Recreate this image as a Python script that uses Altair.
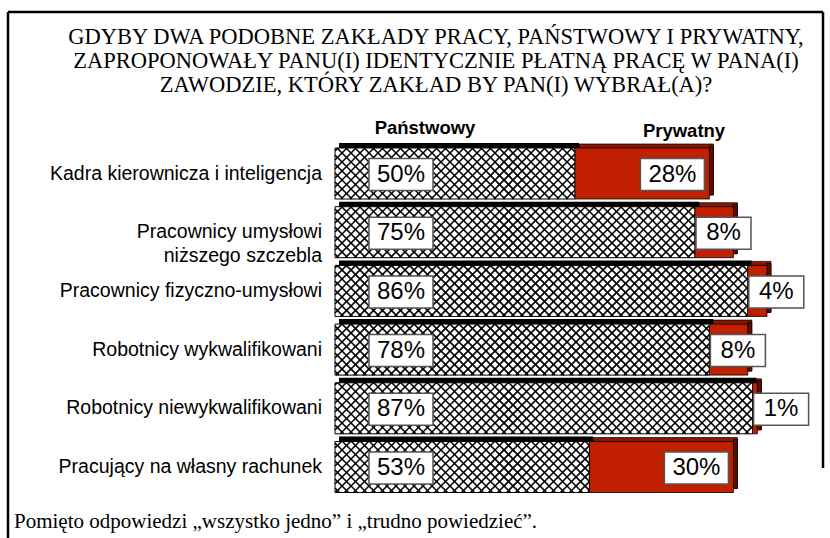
import math
import altair as alt
import pandas as pd

# ---------------- data ----------------
categories = [
    "Kadra kierownicza i inteligencja",
    "Pracownicy umysłowi|niższego szczebla",
    "Pracownicy fizyczno-umysłowi",
    "Robotnicy wykwalifikowani",
    "Robotnicy niewykwalifikowani",
    "Pracujący na własny rachunek",
]
state_pct = [50, 75, 86, 78, 87, 53]
private_pct = [28, 8, 4, 8, 1, 30]
series = ["Państwowy", "Prywatny"]
title_lines = [
    "GDYBY DWA PODOBNE ZAKŁADY PRACY, PAŃSTWOWY I  PRYWATNY,",
    "ZAPROPONOWAŁY PANU(I) IDENTYCZNIE PŁATNĄ PRACĘ W PANA(I)",
    "ZAWODZIE, KTÓRY ZAKŁAD BY PAN(I) WYBRAŁ(A)?",
]
footnote = "Pomięto odpowiedzi „wszystko jedno” i „trudno powiedzieć”."

# ---------------- layout ----------------
W, H = 830, 538
X_ORIGIN, X_UNIT = 335.0, 4.8      # pixel of 0 %, pixels per 1 %
Y_ORIGIN, Y_UNIT = 173.5, 58.7     # pixel of first row centre, pixels per row
HALF_PX = 25.5                      # half bar height
DEPTH = 4                           # 3-D depth in px

def pct(px):
    return (px - X_ORIGIN) / X_UNIT

def row(py):
    return (py - Y_ORIGIN) / Y_UNIT

xs = alt.Scale(domain=[pct(0), pct(W)], range=[0, W], nice=False, zero=False)
ys = alt.Scale(domain=[row(0), row(H)], range=[0, H], nice=False, zero=False)

HH = HALF_PX / Y_UNIT
BOX_HALF = 16 / Y_UNIT
BOX_SHIFT = 1 / Y_UNIT

def box_w_px(label):
    return 55 + 9 * (len(label) - 2)

bars = []
for i, (c, s, p) in enumerate(zip(categories, state_pct, private_pct)):
    t = s + p
    ls, lp = f"{s}%", f"{p}%"
    ws = box_w_px(ls) / X_UNIT
    wp = box_w_px(lp) / X_UNIT
    s_box0 = 34 / X_UNIT
    p_box0 = max(s + 1 / X_UNIT, t - 5 / X_UNIT - wp)
    bars.append(dict(
        row=i, cat=c, start=0.0, s=s, t=t,
        top=i - HH, bot=i + HH,
        btop=i + BOX_SHIFT - BOX_HALF, bbot=i + BOX_SHIFT + BOX_HALF,
        ls=ls, lp=lp,
        sb0=s_box0, sb1=s_box0 + ws, sbc=s_box0 + ws / 2,
        pb0=p_box0, pb1=p_box0 + wp, pbc=p_box0 + wp / 2,
        lx=pct(322),
    ))
bars = pd.DataFrame(bars)

# cross-hatch segments clipped to the state bars
STEP = 9.0
hatch = []
for i, s in enumerate(state_pct):
    x0 = X_ORIGIN
    x1 = X_ORIGIN + s * X_UNIT
    yc = Y_ORIGIN + i * Y_UNIT
    yt, yb = yc - HALF_PX, yc + HALF_PX
    k = math.ceil((x0 - yb) / STEP)
    while k * STEP <= x1 - yt:
        c = k * STEP
        a, b = max(yt, x0 - c), min(yb, x1 - c)
        if b - a > 0.3:
            hatch.append(dict(x=pct(a + c), y=row(a), x2=pct(b + c), y2=row(b)))
        k += 1
    k = math.ceil((x0 + yt) / STEP)
    while k * STEP <= x1 + yb:
        c = k * STEP
        a, b = max(yt, c - x1), min(yb, c - x0)
        if b - a > 0.3:
            hatch.append(dict(x=pct(c - a), y=row(a), x2=pct(c - b), y2=row(b)))
        k += 1
hatch = pd.DataFrame(hatch)

def X(f):
    return alt.X(f, type="quantitative", scale=xs, axis=None)

def Y(f):
    return alt.Y(f, type="quantitative", scale=ys, axis=None)

base = alt.Chart(bars)

state_back = base.mark_rect(fill="black", xOffset=DEPTH, x2Offset=DEPTH,
                            yOffset=-DEPTH - 1, y2Offset=-DEPTH).encode(
    x=X("start"), x2="s", y=Y("top"), y2="bot")
priv_back = base.mark_rect(fill="#8a1800", stroke="black", strokeWidth=0.7,
                           xOffset=DEPTH, x2Offset=DEPTH,
                           yOffset=-DEPTH, y2Offset=-DEPTH).encode(
    x=X("s"), x2="t", y=Y("top"), y2="bot")
priv_side = base.mark_rect(fill="#5e0c00", stroke="black", strokeWidth=0.7,
                           x2Offset=DEPTH, yOffset=-DEPTH / 2, y2Offset=-DEPTH).encode(
    x=X("t"), x2="t", y=Y("top"), y2="bot")
state_front = base.mark_rect(fill="white", stroke="black", strokeWidth=1).encode(
    x=X("start"), x2="s", y=Y("top"), y2="bot")
hatch_layer = alt.Chart(hatch).mark_rule(color="black", strokeWidth=1.6).encode(
    x=X("x"), y=Y("y"), x2="x2", y2="y2")
priv_front = base.mark_rect(fill="#c02000", stroke="black", strokeWidth=0.8).encode(
    x=X("s"), x2="t", y=Y("top"), y2="bot")

box_s = base.mark_rect(fill="white", stroke="#555555", strokeWidth=1.5).encode(
    x=X("sb0"), x2="sb1", y=Y("btop"), y2="bbot")
box_p = base.mark_rect(fill="white", stroke="#555555", strokeWidth=1.5).encode(
    x=X("pb0"), x2="pb1", y=Y("btop"), y2="bbot")
txt_style = dict(font="Liberation Sans", fontSize=24, color="black",
                 align="center", baseline="middle", dy=1)
txt_s = base.mark_text(**txt_style).encode(x=X("sbc"), y=Y("row"), text="ls:N")
txt_p = base.mark_text(**txt_style).encode(x=X("pbc"), y=Y("row"), text="lp:N")

cat_txt = base.mark_text(font="Liberation Sans", fontSize=19.5, align="right",
                         baseline="middle", lineBreak="|", lineHeight=24,
                         color="black").encode(x=X("lx"), y=Y("row"), text="cat:N")

heads = pd.DataFrame({"name": series, "x": [pct(425), pct(684)], "y": [row(128), row(131)]})
head_txt = alt.Chart(heads).mark_text(font="Liberation Sans", fontSize=18.5,
                                      fontWeight="bold", align="center",
                                      baseline="middle", color="black").encode(
    x=X("x"), y=Y("y"), text="name:N")

title_df = pd.DataFrame({"t": title_lines, "x": [pct(436)] * 3,
                         "y": [row(37), row(61), row(85)]})
title_txt = alt.Chart(title_df).mark_text(font="Liberation Serif", fontSize=22.5,
                                          align="center", baseline="middle",
                                          color="black").encode(
    x=X("x"), y=Y("y"), text="t:N")

foot_df = pd.DataFrame({"t": [footnote]})
foot_txt = alt.Chart(foot_df).mark_text(font="Liberation Serif", fontSize=21,
                                        align="left", baseline="middle",
                                        color="black").encode(
    x=alt.value(14), y=alt.value(522), text="t:N")

frame_df = pd.DataFrame({"k": [0]})
frame_left = alt.Chart(frame_df).mark_rule(color="black", strokeWidth=2.5).encode(
    x=alt.value(8), y=alt.value(12), y2=alt.value(H))
frame_top = alt.Chart(frame_df).mark_rule(color="black", strokeWidth=2.5).encode(
    x=alt.value(8), x2=alt.value(823), y=alt.value(12))
frame_right = alt.Chart(frame_df).mark_rule(color="black", strokeWidth=2.5).encode(
    x=alt.value(823), y=alt.value(12), y2=alt.value(468))

chart = alt.layer(
    frame_left, frame_top, frame_right,
    title_txt, head_txt, cat_txt,
    state_back, priv_back, priv_side, state_front, hatch_layer, priv_front,
    box_s, box_p, txt_s, txt_p, foot_txt,
).properties(
    width=W, height=H, padding=0, background="white",
    autosize=alt.AutoSizeParams(type="none"),
).configure_view(stroke=None)

chart.save("out.html", embed_options={"renderer": "svg", "actions": False})
